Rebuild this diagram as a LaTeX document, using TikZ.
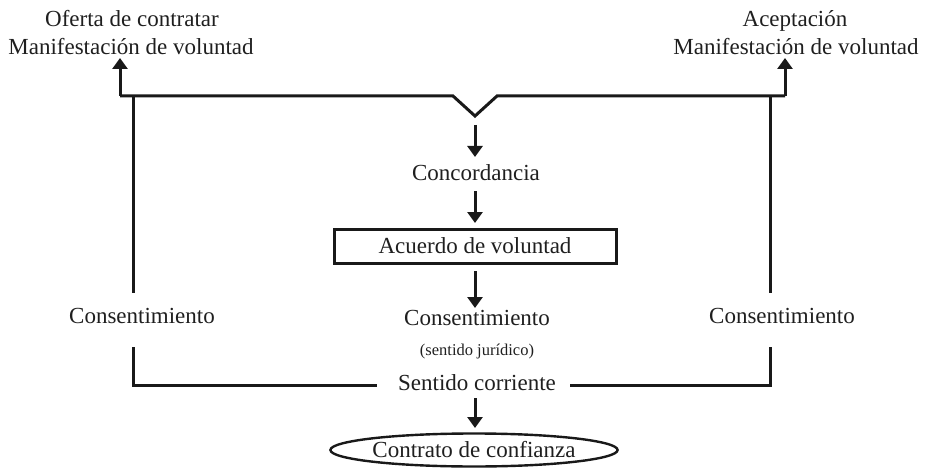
\documentclass[tikz,border=0pt]{standalone}
\usepackage{fontspec}
\setmainfont{Liberation Serif}
\usetikzlibrary{arrows.meta,shapes.geometric}
\begin{document}
\begin{tikzpicture}[x=1pt,y=-1pt,
  lbl/.style={anchor=base,inner sep=0pt,font=\fontsize{23}{29}\selectfont,text=black!88},
  small/.style={anchor=base,inner sep=0pt,font=\fontsize{16.5}{20}\selectfont,text=black!88},
  ln/.style={line width=3pt,draw=black!90,line join=miter,line cap=butt},
  arr/.style={line width=3pt,draw=black!90,-{Triangle[width=15pt,length=11pt]}}]
\useasboundingbox (0,0) rectangle (926,468);
% top texts
\node[lbl] (of1) at (132,27) {Oferta de contratar};
\node[lbl] (of2) at (131,55) {Manifestación de voluntad};
\node[lbl] (ac1) at (795,27) {Aceptación};
\node[lbl] (ac2) at (796,55) {Manifestación de voluntad};
% centre
\node[lbl] (conc) at (476,180) {Concordancia};
\node[draw=black!90,line width=3pt,minimum width=282pt,minimum height=34pt,inner sep=0pt,
  font=\fontsize{23}{29}\selectfont,text=black!88] (acu) at (475,246) {Acuerdo de voluntad};
\node[lbl] (cc) at (477,325) {Consentimiento};
\node[small] (sj) at (477,355) {(sentido jurídico)};
\node[lbl] (sc) at (477,390) {Sentido corriente};
\node[draw=black!90,line width=2.4pt,ellipse,minimum width=268pt,minimum height=33pt,inner sep=0pt,
  font=\fontsize{23}{29}\selectfont,text=black!88] (ct) at (474,450) {Contrato de confianza};
% sides
\node[lbl] (cl) at (142,323) {Consentimiento};
\node[lbl] (cr) at (782,323) {Consentimiento};
% bracket coordinates
\coordinate (tl) at (120,96);
\coordinate (tr) at (785,96);
\coordinate (v1) at (453,96);
\coordinate (v2) at (475,116);
\coordinate (v3) at (497,96);
\coordinate (al) at (120,58);
\coordinate (ar) at (785,58);
\coordinate (ll1) at (133,96);
\coordinate (ll2) at (133,293);
\coordinate (rl1) at (770,96);
\coordinate (rl2) at (770,293);
\coordinate (bl1) at (133,347);
\coordinate (bl2) at (133,385);
\coordinate (bl3) at (377,385);
\coordinate (br1) at (770,347);
\coordinate (br2) at (770,385);
\coordinate (br3) at (570,385);
% top bracket
\draw[ln] (tl) -- (v1) -- (v2) -- (v3) -- (tr);
\draw[arr] (tl) -- (al);
\draw[arr] (tr) -- (ar);
\draw[ln] (ll1) -- (ll2);
\draw[ln] (rl1) -- (rl2);
% bottom brackets
\draw[ln] (bl1) -- (bl2) -- (bl3);
\draw[ln] (br1) -- (br2) -- (br3);
% centre arrows
\draw[arr] (475,125) -- (475,157);
\draw[arr] (475,191) -- (acu.north |- 0,223);
\draw[arr] (acu.south |- 0,271) -- (475,308);
\draw[arr] (475,398) -- (475,428);
\end{tikzpicture}
\end{document}
